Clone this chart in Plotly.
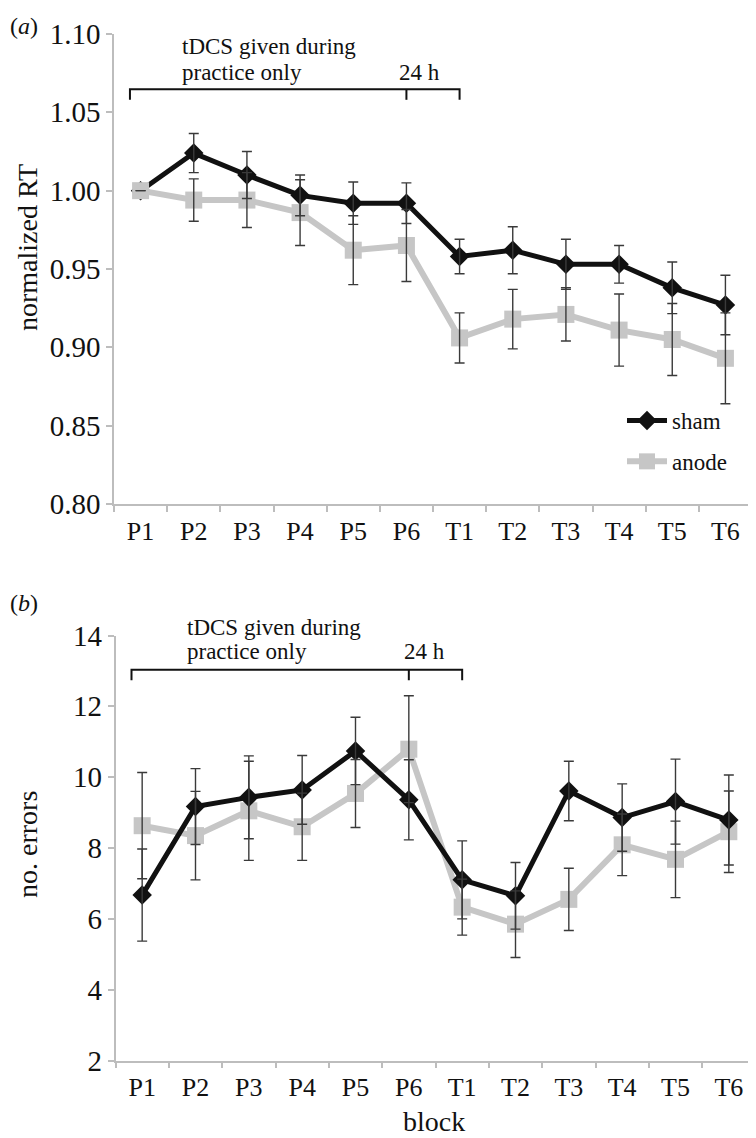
import plotly.graph_objects as go

blocks = ["P1", "P2", "P3", "P4", "P5", "P6", "T1", "T2", "T3", "T4", "T5", "T6"]

# Panel (a): normalized RT
rt_sham = [1.000, 1.024, 1.010, 0.997, 0.992, 0.992, 0.958, 0.962, 0.953, 0.953, 0.938, 0.927]
rt_sham_err = [0.000, 0.0125, 0.015, 0.013, 0.0135, 0.013, 0.011, 0.015, 0.016, 0.012, 0.0165, 0.019]
rt_anode = [1.000, 0.994, 0.994, 0.986, 0.962, 0.965, 0.906, 0.918, 0.921, 0.911, 0.905, 0.893]
rt_anode_err = [0.000, 0.0135, 0.0175, 0.021, 0.022, 0.023, 0.016, 0.019, 0.017, 0.023, 0.023, 0.029]

# Panel (b): number of errors
err_sham = [6.67, 9.17, 9.43, 9.64, 10.74, 9.36, 7.10, 6.65, 9.61, 8.86, 9.31, 8.79]
err_sham_err = [1.30, 1.07, 1.17, 0.97, 0.95, 1.13, 1.10, 0.94, 0.84, 0.95, 1.20, 1.27]
err_anode = [8.63, 8.35, 9.05, 8.60, 9.54, 10.79, 6.33, 5.85, 6.55, 8.09, 7.68, 8.46]
err_anode_err = [1.50, 1.25, 1.40, 0.95, 0.96, 1.51, 0.79, 0.94, 0.88, 0.87, 1.08, 1.15]

# The page body has an 8px margin, so the figure is sized to fit the window
OFF = 8
W, H = 756 - OFF, 1138 - OFF
FONT = "Liberation Serif"
SHAM_C = "#111111"
ANODE_C = "#c6c6c6"
EB_C = "#3a3a3a"
AX_C = "#bdbdbd"


def px(x):  # page pixel -> paper fraction (x)
    return (x - OFF) / W


def py(y):  # page pixel -> paper fraction (y)
    return 1 - (y - OFF) / H


fig = go.Figure()


def add_series(xa, ya, vals, color, symbol, msize, lw, name, show, rank):
    fig.add_trace(go.Scatter(
        x=blocks, y=vals, xaxis=xa, yaxis=ya, mode="lines+markers", name=name,
        line=dict(color=color, width=lw),
        marker=dict(symbol=symbol, size=msize, color=color),
        showlegend=show, legendrank=rank, legendgroup=name, cliponaxis=False))


def add_err(xa, ya, vals, errs):
    fig.add_trace(go.Scatter(
        x=blocks, y=vals, xaxis=xa, yaxis=ya, mode="markers",
        marker=dict(size=1, color="rgba(0,0,0,0)"),
        error_y=dict(type="data", array=errs, visible=True, color=EB_C, thickness=1.4, width=5),
        showlegend=False, hoverinfo="skip", cliponaxis=False))


# panel a
add_series("x", "y", rt_sham, SHAM_C, "diamond", 15, 5, "sham", True, 1)
add_series("x", "y", rt_anode, ANODE_C, "square", 17, 6, "anode", True, 2)
add_err("x", "y", rt_sham, rt_sham_err)
add_err("x", "y", rt_anode, rt_anode_err)
# panel b
add_series("x2", "y2", err_anode, ANODE_C, "square", 17, 6, "anode", False, 2)
add_series("x2", "y2", err_sham, SHAM_C, "diamond", 15, 5, "sham", False, 1)
add_err("x2", "y2", err_sham, err_sham_err)
add_err("x2", "y2", err_anode, err_anode_err)

xcommon = dict(type="category", categoryorder="array", categoryarray=blocks,
               range=[-0.5, len(blocks) - 0.5], showline=True, linecolor=AX_C, linewidth=1.5,
               ticks="outside", tickson="boundaries", ticklen=6, tickcolor=AX_C, tickwidth=1.5,
               showgrid=False, zeroline=False, automargin=False, ticklabelstandoff=3,
               tickfont=dict(family=FONT, size=26, color="#111"))
ycommon = dict(showline=True, linecolor=AX_C, linewidth=1.5, ticks="outside", ticklen=6,
               tickcolor=AX_C, tickwidth=1.5, showgrid=False, zeroline=False,
               ticklabelstandoff=0, automargin=False,
               tickfont=dict(family=FONT, size=29, color="#111"))

fig.update_layout(
    width=W, height=H, margin=dict(l=0, r=0, t=0, b=0, autoexpand=False),
    paper_bgcolor="white", plot_bgcolor="white",
    font=dict(family=FONT, color="#111"),
    xaxis=dict(xcommon, domain=[px(114), px(752)], anchor="y"),
    yaxis=dict(ycommon, domain=[py(504), py(34)], range=[0.80, 1.10], dtick=0.05,
               tickformat=".2f", anchor="x"),
    xaxis2=dict(xcommon, domain=[px(115.5), px(755.5)], anchor="y2"),
    yaxis2=dict(ycommon, domain=[py(1060.5), py(635.5)], range=[2, 14], dtick=2,
                anchor="x2"),
    legend=dict(x=px(622), y=py(399), xanchor="left", yanchor="top",
                font=dict(family=FONT, size=23, color="#111"), bgcolor="rgba(0,0,0,0)",
                itemwidth=40, traceorder="grouped", tracegroupgap=8),
    showlegend=True,
)


# Brackets
def bracket(xr, yr, ytop, ybot):
    path = f"M -0.2,{ybot} L -0.2,{ytop} L 6,{ytop} L 6,{ybot}"
    fig.add_shape(type="path", xref=xr, yref=yr, path=path,
                  line=dict(color="#111", width=2))
    fig.add_shape(type="line", xref=xr, yref=yr, x0=5, x1=5, y0=ytop, y1=ybot,
                  line=dict(color="#111", width=2))


bracket("x", "y", 1.0647, 1.058)
bracket("x2", "y2", 13.03, 12.74)


def txt(xr, x, ypix, s, size=23, xanchor="left"):
    fig.add_annotation(xref=xr, yref="paper", x=x, y=py(ypix), text=s, showarrow=False,
                       xanchor=xanchor, yanchor="middle",
                       font=dict(family=FONT, size=size, color="#111"))


txt("x", 0.75, 47, "tDCS given during")
txt("x", 0.75, 72, "practice only")
txt("x", 5.25, 72, "24 h", xanchor="center")
txt("x2", 0.8, 627, "tDCS given during")
txt("x2", 0.8, 651, "practice only")
txt("x2", 5.3, 651, "24 h", xanchor="center")


def ptxt(x, y, s, size=28, angle=0, xanchor="center"):
    fig.add_annotation(xref="paper", yref="paper", x=px(x), y=py(y), text=s,
                       showarrow=False, xanchor=xanchor, yanchor="middle", textangle=angle,
                       font=dict(family=FONT, size=size, color="#111"))


ptxt(27, 248, "normalized RT", angle=-90)
ptxt(27, 845, "no. errors", angle=-90)
ptxt(434, 1121, "block")
ptxt(8, 26, "(<i>a</i>)", size=24, xanchor="left")
ptxt(8, 603, "(<i>b</i>)", size=24, xanchor="left")

fig.write_html("out.html")
